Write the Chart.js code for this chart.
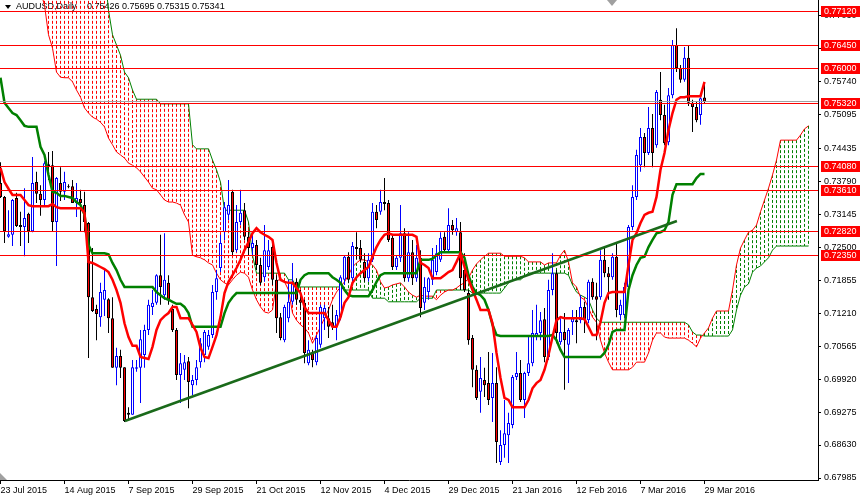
<!DOCTYPE html>
<html>
<head>
<meta charset="utf-8">
<title>AUDUSD, Daily</title>
<script src="https://cdn.jsdelivr.net/npm/chart.js@4.4.1/dist/chart.umd.min.js"></script>
<style>
    html, body { margin: 0; padding: 0; background: #ffffff; }
    #wrap { width: 860px; height: 498px; }
</style>
</head>
<body>
<div id="wrap"><canvas id="audChart" width="860" height="498"></canvas></div>
<script>

// Axe du temps : un tick tous les 16 jours de bourse
const dateTicks = [0, 16, 32, 48, 64, 80, 96, 112, 128, 144, 160, 176];
const dateLabels = ['23 Jul 2015', '14 Aug 2015', '7 Sep 2015', '29 Sep 2015', '21 Oct 2015', '12 Nov 2015',
    '4 Dec 2015', '29 Dec 2015', '21 Jan 2016', '12 Feb 2016', '7 Mar 2016', '29 Mar 2016'];

// Axe des prix
const priceTicks = [0.67985, 0.68630, 0.69275, 0.69920, 0.70565, 0.71210, 0.71855, 0.72500,
    0.73145, 0.73790, 0.74435, 0.75095, 0.75740, 0.76385, 0.77030];

// Niveaux horizontaux et prix Bid
const levels = [0.7712, 0.7645, 0.7600, 0.7532, 0.7408, 0.7361, 0.7282, 0.7235];
const bidPrice = 0.75341;
const symbolName = 'AUDUSD,Daily';
const lastOhlc = [0.75426, 0.75695, 0.75315, 0.75341];

// Bougies (index 0 = 23 Jul 2015)
const open = [
    0.7375,0.7348,0.7270,0.7274,0.7346,0.7293,0.7289,0.7315,0.7281,0.7377,
    0.7354,0.7342,0.7412,0.7410,0.7299,0.7375,0.7358,0.7369,0.7369,0.7336,
    0.7344,0.7332,0.7297,0.7152,0.7129,0.7113,0.7147,0.7148,0.7111,0.7014,
    0.7037,0.7015,0.6926,0.6922,0.7012,0.7014,0.7039,0.7088,0.7133,0.7141,
    0.7195,0.7156,0.7180,0.7129,0.7088,0.7000,0.7010,0.7027,0.6980,0.6990,
    0.7025,0.7039,0.7055,0.7078,0.7162,0.7209,0.7279,0.7313,0.7358,0.7244,
    0.7299,0.7322,0.7270,0.7248,0.7254,0.7215,0.7191,0.7211,0.7250,0.7186,
    0.7113,0.7068,0.7111,0.7143,0.7182,0.7147,0.7141,0.7023,0.7043,0.7025,
    0.7059,0.7111,0.7111,0.7103,0.7094,0.7113,0.7186,0.7231,0.7189,0.7250,
    0.7248,0.7221,0.7189,0.7225,0.7319,0.7319,0.7338,0.7336,0.7268,0.7211,
    0.7229,0.7277,0.7189,0.7240,0.7189,0.7229,0.7141,0.7162,0.7186,0.7201,
    0.7225,0.7270,0.7244,0.7293,0.7279,0.7279,0.7205,0.7160,0.7072,0.7010,
    0.6967,0.6990,0.6984,0.6955,0.6984,0.6830,0.6863,0.6882,0.6902,0.6996,
    0.7004,0.6951,0.7004,0.7023,0.7074,0.7082,0.7109,0.7035,0.7166,0.7199,
    0.7064,0.7084,0.7059,0.7103,0.7107,0.7107,0.7133,0.7107,0.7182,0.7154,
    0.7152,0.7225,0.7199,0.7191,0.7231,0.7117,0.7117,0.7172,0.7289,0.7348,
    0.7410,0.7465,0.7434,0.7483,0.7449,0.7538,0.7508,0.7455,0.7547,0.7645,
    0.7600,0.7577,0.7620,0.7532,0.7524,0.7508,0.75426
];
const high = [
    0.7416,0.7350,0.7322,0.7344,0.7356,0.7319,0.7365,0.7317,0.7426,0.7397,
    0.7371,0.7418,0.7436,0.7438,0.7387,0.7406,0.7397,0.7373,0.7381,0.7375,
    0.7362,0.7358,0.7299,0.7248,0.7137,0.7180,0.7205,0.7150,0.7152,0.7053,
    0.7049,0.7015,0.6937,0.7029,0.7029,0.7088,0.7098,0.7147,0.7166,0.7197,
    0.7274,0.7277,0.7195,0.7137,0.7092,0.7043,0.7039,0.7035,0.7000,0.7029,
    0.7072,0.7088,0.7088,0.7176,0.7205,0.7274,0.7338,0.7381,0.7362,0.7332,
    0.7362,0.7336,0.7283,0.7274,0.7264,0.7229,0.7293,0.7264,0.7258,0.7195,
    0.7121,0.7137,0.7186,0.7219,0.7189,0.7166,0.7147,0.7068,0.7049,0.7078,
    0.7137,0.7137,0.7133,0.7137,0.7127,0.7195,0.7234,0.7240,0.7260,0.7279,
    0.7264,0.7238,0.7238,0.7336,0.7332,0.7362,0.7385,0.7342,0.7274,0.7234,
    0.7332,0.7287,0.7279,0.7264,0.7254,0.7244,0.7191,0.7191,0.7248,0.7254,
    0.7279,0.7279,0.7326,0.7303,0.7307,0.7299,0.7238,0.7166,0.7078,0.7019,
    0.7035,0.7014,0.7045,0.7043,0.7015,0.6892,0.6951,0.6926,0.7000,0.7045,
    0.7029,0.7006,0.7074,0.7127,0.7137,0.7123,0.7131,0.7186,0.7238,0.7205,
    0.7111,0.7121,0.7092,0.7127,0.7127,0.7156,0.7143,0.7186,0.7189,0.7180,
    0.7244,0.7248,0.7211,0.7238,0.7258,0.7147,0.7180,0.7293,0.7371,0.7440,
    0.7483,0.7473,0.7524,0.7510,0.7557,0.7592,0.7528,0.7561,0.7655,0.7678,
    0.7606,0.7641,0.7645,0.7538,0.7534,0.7543,0.75695
];
const low = [
    0.7346,0.7258,0.7268,0.7252,0.7289,0.7252,0.7232,0.7258,0.7279,0.7336,
    0.7311,0.7330,0.7381,0.7281,0.7213,0.7340,0.7342,0.7365,0.7336,0.7309,
    0.7281,0.7279,0.7033,0.7123,0.7068,0.7094,0.7115,0.7082,0.7014,0.6980,
    0.6994,0.6908,0.6912,0.6922,0.7006,0.6945,0.7014,0.7078,0.7117,0.7137,
    0.7137,0.7147,0.7137,0.7084,0.6990,0.6945,0.6990,0.6935,0.6961,0.6980,
    0.7014,0.7025,0.7049,0.7072,0.7147,0.7201,0.7264,0.7303,0.7234,0.7240,
    0.7293,0.7264,0.7234,0.7234,0.7205,0.7176,0.7182,0.7205,0.7176,0.7082,
    0.7068,0.7064,0.7103,0.7137,0.7137,0.7127,0.7023,0.7019,0.7015,0.7019,
    0.7053,0.7088,0.7072,0.7088,0.7068,0.7107,0.7176,0.7180,0.7182,0.7225,
    0.7221,0.7182,0.7182,0.7221,0.7287,0.7313,0.7322,0.7260,0.7205,0.7205,
    0.7221,0.7182,0.7182,0.7176,0.7182,0.7113,0.7127,0.7147,0.7176,0.7195,
    0.7221,0.7240,0.7240,0.7274,0.7272,0.7166,0.7162,0.7059,0.6976,0.6951,
    0.6926,0.6957,0.6941,0.6908,0.6828,0.6824,0.6838,0.6828,0.6896,0.6990,
    0.6947,0.6916,0.6998,0.7017,0.7068,0.7068,0.7025,0.7029,0.7156,0.7062,
    0.7059,0.6971,0.6984,0.7078,0.7062,0.7101,0.7082,0.7101,0.7147,0.7068,
    0.7147,0.7191,0.7147,0.7186,0.7113,0.7107,0.7111,0.7166,0.7283,0.7342,
    0.7397,0.7406,0.7430,0.7406,0.7444,0.7498,0.7449,0.7449,0.7541,0.7592,
    0.7571,0.7573,0.7526,0.7475,0.7494,0.7489,0.75315
];
const close = [
    0.7348,0.7281,0.7275,0.7342,0.7291,0.7289,0.7307,0.7281,0.7375,0.7354,
    0.7342,0.7414,0.7408,0.7299,0.7385,0.7358,0.7377,0.7367,0.7336,0.7346,
    0.7336,0.7299,0.7152,0.7125,0.7119,0.7162,0.7166,0.7111,0.7014,0.7037,
    0.7014,0.6910,0.6922,0.7015,0.7015,0.7070,0.7088,0.7137,0.7141,0.7195,
    0.7172,0.7186,0.7147,0.7088,0.7000,0.7023,0.7025,0.6986,0.6990,0.7015,
    0.7062,0.7084,0.7078,0.7162,0.7189,0.7258,0.7328,0.7332,0.7240,0.7299,
    0.7317,0.7270,0.7248,0.7258,0.7215,0.7180,0.7244,0.7244,0.7186,0.7111,
    0.7072,0.7133,0.7143,0.7182,0.7147,0.7141,0.7043,0.7049,0.7029,0.7072,
    0.7133,0.7131,0.7094,0.7094,0.7117,0.7191,0.7231,0.7186,0.7252,0.7246,
    0.7225,0.7189,0.7225,0.7319,0.7303,0.7338,0.7334,0.7264,0.7211,0.7229,
    0.7277,0.7189,0.7240,0.7189,0.7229,0.7131,0.7172,0.7189,0.7225,0.7238,
    0.7268,0.7244,0.7293,0.7283,0.7287,0.7189,0.7166,0.7068,0.7010,0.6955,
    0.6994,0.6980,0.6951,0.6984,0.6869,0.6863,0.6886,0.6906,0.6996,0.7004,
    0.6951,0.7004,0.7023,0.7082,0.7082,0.7107,0.7035,0.7166,0.7199,0.7082,
    0.7084,0.7068,0.7088,0.7111,0.7103,0.7133,0.7107,0.7182,0.7152,0.7147,
    0.7225,0.7199,0.7191,0.7231,0.7127,0.7137,0.7172,0.7289,0.7348,0.7430,
    0.7465,0.7434,0.7483,0.7434,0.7553,0.7508,0.7453,0.7547,0.7645,0.7600,
    0.7577,0.7620,0.7532,0.7524,0.7498,0.7541,0.75341
];

// Tenkan-sen (rouge) et Kijun-sen (vert)
const tenkan = [
    0.7405,0.7377,0.7364,0.7352,0.7352,0.7352,0.7342,0.7332,0.7330,0.7330,
    0.7330,0.7330,0.7330,0.7334,0.7328,0.7326,0.7326,0.7326,0.7326,0.7326,
    0.7326,0.7317,0.7221,0.7219,0.7215,0.7211,0.7207,0.7201,0.7186,0.7166,
    0.7141,0.7101,0.7074,0.7057,0.7057,0.7035,0.7033,0.7031,0.7055,0.7088,
    0.7107,0.7115,0.7121,0.7133,0.7133,0.7111,0.7111,0.7111,0.7098,0.7084,
    0.7053,0.7035,0.7033,0.7055,0.7078,0.7113,0.7160,0.7182,0.7195,0.7209,
    0.7225,0.7244,0.7260,0.7277,0.7287,0.7279,0.7274,0.7270,0.7264,0.7219,
    0.7186,0.7182,0.7180,0.7180,0.7170,0.7160,0.7133,0.7121,0.7121,0.7121,
    0.7121,0.7121,0.7107,0.7094,0.7094,0.7113,0.7141,0.7152,0.7180,0.7191,
    0.7199,0.7205,0.7211,0.7231,0.7250,0.7264,0.7274,0.7277,0.7274,0.7274,
    0.7274,0.7274,0.7274,0.7274,0.7270,0.7219,0.7215,0.7209,0.7189,0.7189,
    0.7189,0.7195,0.7201,0.7205,0.7221,0.7238,0.7211,0.7186,0.7166,0.7147,
    0.7127,0.7127,0.7127,0.7101,0.7043,0.6994,0.6955,0.6951,0.6937,0.6937,
    0.6937,0.6937,0.6951,0.6974,0.6984,0.6990,0.7010,0.7039,0.7074,0.7107,
    0.7113,0.7111,0.7111,0.7111,0.7111,0.7111,0.7109,0.7094,0.7078,0.7078,
    0.7103,0.7141,0.7160,0.7162,0.7162,0.7162,0.7162,0.7215,0.7264,0.7277,
    0.7297,0.7313,0.7317,0.7319,0.7348,0.7401,0.7434,0.7479,0.7512,0.7538,
    0.7543,0.7543,0.7545,0.7545,0.7545,0.7545,0.7573
];
const kijun = [
    0.7581,0.7532,0.7522,0.7512,0.7508,0.7498,0.7487,0.7485,0.7485,0.7485,
    0.7446,0.7430,0.7391,0.7358,0.7356,0.7350,0.7350,0.7348,0.7346,0.7338,
    0.7332,0.7313,0.7254,0.7238,0.7238,0.7238,0.7238,0.7236,0.7219,0.7205,
    0.7186,0.7172,0.7172,0.7172,0.7172,0.7172,0.7172,0.7172,0.7172,0.7162,
    0.7156,0.7150,0.7147,0.7143,0.7139,0.7139,0.7133,0.7121,0.7094,0.7094,
    0.7094,0.7094,0.7094,0.7094,0.7094,0.7094,0.7121,0.7141,0.7152,0.7160,
    0.7160,0.7160,0.7160,0.7160,0.7160,0.7160,0.7160,0.7160,0.7160,0.7160,
    0.7160,0.7160,0.7160,0.7160,0.7160,0.7186,0.7195,0.7199,0.7199,0.7199,
    0.7199,0.7199,0.7199,0.7191,0.7186,0.7180,0.7166,0.7156,0.7154,0.7154,
    0.7154,0.7154,0.7154,0.7166,0.7182,0.7195,0.7199,0.7199,0.7199,0.7199,
    0.7199,0.7199,0.7199,0.7199,0.7199,0.7225,0.7225,0.7225,0.7227,0.7234,
    0.7240,0.7240,0.7240,0.7240,0.7240,0.7240,0.7229,0.7195,0.7172,0.7160,
    0.7156,0.7147,0.7127,0.7098,0.7078,0.7076,0.7076,0.7076,0.7076,0.7076,
    0.7076,0.7076,0.7076,0.7076,0.7076,0.7076,0.7076,0.7076,0.7078,0.7068,
    0.7049,0.7035,0.7035,0.7035,0.7035,0.7035,0.7035,0.7035,0.7035,0.7035,
    0.7035,0.7043,0.7059,0.7084,0.7088,0.7088,0.7088,0.7166,0.7195,0.7215,
    0.7229,0.7231,0.7250,0.7264,0.7277,0.7279,0.7283,0.7299,0.7352,0.7373,
    0.7373,0.7373,0.7373,0.7373,0.7385,0.7393,0.7393
];

// Senkou Span A / B (deja decales de 26 barres, 203 valeurs)
const spanA = [
    null,null,null,null,null,null,null,null,null,0.7790,0.7750,
    0.7723,0.7665,0.7639,0.7592,0.7582,0.7581,0.7581,0.7573,0.7557,0.7543,
    0.7522,0.7512,0.7504,0.7500,0.7494,0.7485,0.7463,0.7450,0.7436,0.7430,
    0.7424,0.7414,0.7410,0.7405,0.7397,0.7387,0.7377,0.7365,0.7362,0.7352,
    0.7342,0.7338,0.7338,0.7336,0.7332,0.7313,0.7299,0.7234,0.7231,0.7229,
    0.7225,0.7219,0.7215,0.7199,0.7186,0.7180,0.7176,0.7186,0.7195,0.7201,
    0.7199,0.7191,0.7166,0.7147,0.7133,0.7123,0.7121,0.7127,0.7182,0.7189,
    0.7182,0.7166,0.7121,0.7107,0.7098,0.7092,0.7082,0.7062,0.7078,0.7094,
    0.7111,0.7127,0.7147,0.7162,0.7172,0.7182,0.7195,0.7211,0.7219,0.7225,
    0.7225,0.7221,0.7215,0.7205,0.7182,0.7170,0.7172,0.7176,0.7178,0.7180,
    0.7172,0.7162,0.7156,0.7152,0.7156,0.7154,0.7154,0.7154,0.7147,0.7156,
    0.7162,0.7166,0.7166,0.7170,0.7176,0.7180,0.7189,0.7205,0.7217,0.7225,
    0.7232,0.7238,0.7238,0.7238,0.7238,0.7232,0.7232,0.7232,0.7232,0.7232,
    0.7229,0.7221,0.7221,0.7221,0.7221,0.7215,0.7219,0.7219,0.7219,0.7234,
    0.7244,0.7221,0.7180,0.7172,0.7152,0.7147,0.7131,0.7113,0.7103,0.7068,
    0.7043,0.7025,0.7010,0.7010,0.7010,0.7010,0.7010,0.7015,0.7025,0.7025,
    0.7025,0.7043,0.7068,0.7082,0.7082,0.7074,0.7072,0.7072,0.7072,0.7072,
    0.7072,0.7068,0.7062,0.7055,0.7072,0.7082,0.7092,0.7111,0.7125,0.7125,
    0.7125,0.7125,0.7166,0.7215,0.7248,0.7264,0.7279,0.7283,0.7293,0.7319,
    0.7342,0.7365,0.7391,0.7420,0.7459,0.7459,0.7459,0.7459,0.7459,0.7469,
    0.7481,0.7487
];
const spanB = [
    null,null,null,null,null,null,null,null,null,
    0.7790,0.7790,0.7790,0.7790,0.7790,0.7790,0.7790,0.7790,0.7790,
    0.7790,0.7790,0.7790,0.7790,0.7790,0.7790,0.7790,0.7790,0.7790,
    0.7713,0.7665,0.7645,0.7625,
    0.7592,0.7581,0.7557,0.7539,0.7539,0.7539,0.7539,0.7539,0.7539,0.7530,
    0.7530,0.7530,0.7530,0.7530,0.7530,0.7530,0.7530,0.7450,0.7442,0.7442,
    0.7442,0.7442,0.7420,0.7401,0.7377,0.7322,0.7322,0.7322,0.7322,0.7322,
    0.7322,0.7299,0.7234,0.7199,0.7199,0.7199,0.7199,0.7199,0.7199,0.7199,
    0.7199,0.7186,0.7186,0.7172,0.7172,0.7172,0.7172,0.7172,0.7172,0.7172,
    0.7172,0.7172,0.7172,0.7172,0.7172,0.7166,0.7166,0.7166,0.7166,0.7166,
    0.7166,0.7166,0.7150,0.7150,0.7150,0.7150,0.7143,0.7143,0.7143,0.7143,
    0.7143,0.7143,0.7143,0.7143,0.7150,0.7150,0.7150,0.7150,0.7166,0.7166,
    0.7166,0.7166,0.7166,0.7166,0.7166,0.7166,0.7166,0.7160,0.7160,0.7160,
    0.7160,0.7160,0.7160,0.7160,0.7160,0.7170,0.7180,0.7186,0.7186,0.7186,
    0.7193,0.7199,0.7199,0.7199,0.7199,0.7199,0.7199,0.7199,0.7199,0.7199,
    0.7199,0.7195,0.7176,0.7162,0.7156,0.7152,0.7147,0.7127,0.7111,0.7103,
    0.7103,0.7103,0.7103,0.7103,0.7103,0.7103,0.7103,0.7103,0.7103,0.7103,
    0.7103,0.7103,0.7103,0.7103,0.7103,0.7103,0.7103,0.7103,0.7103,0.7103,
    0.7103,0.7098,0.7084,0.7078,0.7078,0.7076,0.7076,0.7076,0.7076,0.7076,
    0.7076,0.7076,0.7088,0.7127,0.7156,0.7172,0.7178,0.7201,0.7209,0.7213,
    0.7221,0.7229,0.7244,0.7252,0.7252,0.7252,0.7252,0.7252,0.7252,0.7252,
    0.7252,0.7252
];

// Ligne de tendance (index de barre, prix)
const trendX = [31.1, 169.1];
const trendY = [0.6910, 0.7301];

const colors = {
    up: '#0000ff',
    down: '#000000',
    bodyUp: '#ffffff',
    bodyDown: '#ff0000',
    red: '#ff0000',
    green: '#008000',
    trend: '#1a6a1a',
    grey: '#a0a0a0'
};
const fontFamily = '"Liberation Sans", Arial, sans-serif';

const idx = open.map((_, i) => i);
const isUp = idx.map(i => close[i] >= open[i]);

// Nuage : hachures verticales en pointilles, rouge ou vert selon A/B
const cloudPlugin = {
    id: 'cloudHatch',
    beforeDatasetsDraw(chart) {
        const { ctx, chartArea: a, scales: { x, y } } = chart;
        ctx.save();
        // entete du graphique
        ctx.fillStyle = '#000';
        ctx.beginPath();
        ctx.moveTo(5, 5); ctx.lineTo(11, 5); ctx.lineTo(8, 9); ctx.closePath();
        ctx.fill();
        ctx.font = '9px ' + fontFamily;
        ctx.textBaseline = 'middle';
        ctx.fillText(symbolName, 16, 7);
        ctx.fillText(lastOhlc.map(v => v.toFixed(5)).join(' '), 87, 7);

        ctx.beginPath();
        ctx.rect(a.left, a.top, a.right - a.left, a.bottom - a.top);
        ctx.clip();
        ctx.lineWidth = 1;
        ctx.setLineDash([3, 2]);
        for (let i = 0; i < spanA.length; i++) {
            if (spanA[i] === null || spanB[i] === null) continue;
            const px = Math.floor(x.getPixelForValue(i)) + 0.5;
            const ya = y.getPixelForValue(spanA[i]);
            const yb = y.getPixelForValue(spanB[i]);
            ctx.strokeStyle = spanA[i] >= spanB[i] ? colors.green : colors.red;
            ctx.beginPath();
            ctx.moveTo(px, Math.min(ya, yb));
            ctx.lineTo(px, Math.max(ya, yb));
            ctx.stroke();
        }
        ctx.restore();
    },
    afterDatasetsDraw(chart) {
        const { ctx, chartArea: a, scales: { y } } = chart;
        ctx.save();
        ctx.lineWidth = 1;
        const by = Math.round(y.getPixelForValue(bidPrice)) - 0.5;
        ctx.strokeStyle = colors.grey;
        ctx.beginPath(); ctx.moveTo(a.left, by); ctx.lineTo(a.right, by); ctx.stroke();
        ctx.strokeStyle = colors.red;
        levels.forEach(v => {
            const py = Math.round(y.getPixelForValue(v)) + 0.5;
            ctx.beginPath(); ctx.moveTo(a.left, py); ctx.lineTo(a.right, py); ctx.stroke();
        });
        ctx.restore();
    },
    afterDraw(chart) {
        const { ctx, chartArea: a, scales: { y } } = chart;
        ctx.save();
        ctx.font = '9px ' + fontFamily;
        ctx.textBaseline = 'middle';
        levels.forEach(v => {
            const py = Math.round(y.getPixelForValue(v));
            ctx.fillStyle = colors.red;
            ctx.fillRect(a.right + 3, py - 5, chart.width - a.right - 3, 11);
            ctx.fillStyle = '#ffffff';
            ctx.fillText(v.toFixed(5), a.right + 6, py + 0.5);
        });
        // petits marqueurs gris
        ctx.fillStyle = colors.grey;
        ctx.beginPath();
        ctx.moveTo(0, a.bottom - 7); ctx.lineTo(7, a.bottom); ctx.lineTo(0, a.bottom); ctx.closePath();
        ctx.fill();
        ctx.beginPath();
        ctx.moveTo(607, 0); ctx.lineTo(617, 0); ctx.lineTo(612, 6); ctx.closePath();
        ctx.fill();
        ctx.restore();
    }
};

const lineStyle = { pointRadius: 0, tension: 0, fill: false };

new Chart(document.getElementById('audChart'), {
    type: 'bar',
    data: {
        datasets: [
            {
                type: 'line',
                label: 'Tendance',
                data: trendX.map((v, k) => ({ x: v, y: trendY[k] })),
                borderColor: colors.trend,
                borderWidth: 2.5,
                order: 0,
                ...lineStyle
            },
            {
                type: 'line',
                label: 'Tenkan-sen',
                data: tenkan.map((v, i) => ({ x: i, y: v })),
                borderColor: colors.red,
                borderWidth: 2.5,
                order: 1,
                ...lineStyle
            },
            {
                type: 'line',
                label: 'Kijun-sen',
                data: kijun.map((v, i) => ({ x: i, y: v })),
                borderColor: colors.green,
                borderWidth: 2.5,
                order: 2,
                ...lineStyle
            },
            {
                label: 'Corps',
                data: idx.map(i => ({ x: i, y: [open[i], close[i]] })),
                backgroundColor: idx.map(i => isUp[i] ? colors.bodyUp : colors.bodyDown),
                borderColor: idx.map(i => isUp[i] ? colors.up : colors.down),
                borderWidth: 1,
                borderSkipped: false,
                inflateAmount: 0,
                barThickness: 3,
                minBarLength: 1,
                grouped: false,
                order: 3
            },
            {
                label: 'Meches',
                data: idx.map(i => ({ x: i, y: [low[i], high[i]] })),
                backgroundColor: idx.map(i => isUp[i] ? colors.up : colors.down),
                borderWidth: 0,
                inflateAmount: 0,
                barThickness: 1,
                grouped: false,
                order: 4
            },
            {
                type: 'line',
                label: 'Senkou A',
                data: spanA.map((v, i) => ({ x: i, y: v })),
                borderColor: colors.red,
                borderWidth: 1,
                order: 5,
                ...lineStyle
            },
            {
                type: 'line',
                label: 'Senkou B',
                data: spanB.map((v, i) => ({ x: i, y: v })),
                borderColor: colors.green,
                borderWidth: 1,
                order: 6,
                ...lineStyle
            }
        ]
    },
    options: {
        responsive: false,
        animation: false,
        events: [],
        layout: { padding: 0 },
        scales: {
            x: {
                type: 'linear',
                offset: false,
                min: -0.125,
                max: 204.375,
                afterBuildTicks: s => { s.ticks = dateTicks.map(v => ({ value: v })); },
                afterFit: s => { s.height = 18; s.paddingLeft = 0; s.paddingRight = 0; },
                ticks: {
                    autoSkip: false,
                    maxRotation: 0,
                    align: 'start',
                    padding: 1,
                    color: '#000',
                    font: { family: fontFamily, size: 9 },
                    callback: (v, i) => dateLabels[i]
                },
                grid: { drawOnChartArea: false, offset: false, color: '#000', tickLength: 4 },
                border: { color: '#000' }
            },
            y: {
                position: 'right',
                min: 0.67946,
                max: 0.77330,
                afterBuildTicks: s => { s.ticks = priceTicks.map(v => ({ value: v })); },
                afterFit: s => { s.width = 42; s.paddingTop = 0; s.paddingBottom = 0; },
                ticks: {
                    padding: 3,
                    color: '#000',
                    font: { family: fontFamily, size: 9 },
                    callback: v => v.toFixed(5)
                },
                grid: { drawOnChartArea: false, color: '#000', tickLength: 3 },
                border: { color: '#000' }
            }
        },
        plugins: {
            legend: { display: false },
            tooltip: { enabled: false }
        }
    },
    plugins: [cloudPlugin]
});
</script>
</body>
</html>
